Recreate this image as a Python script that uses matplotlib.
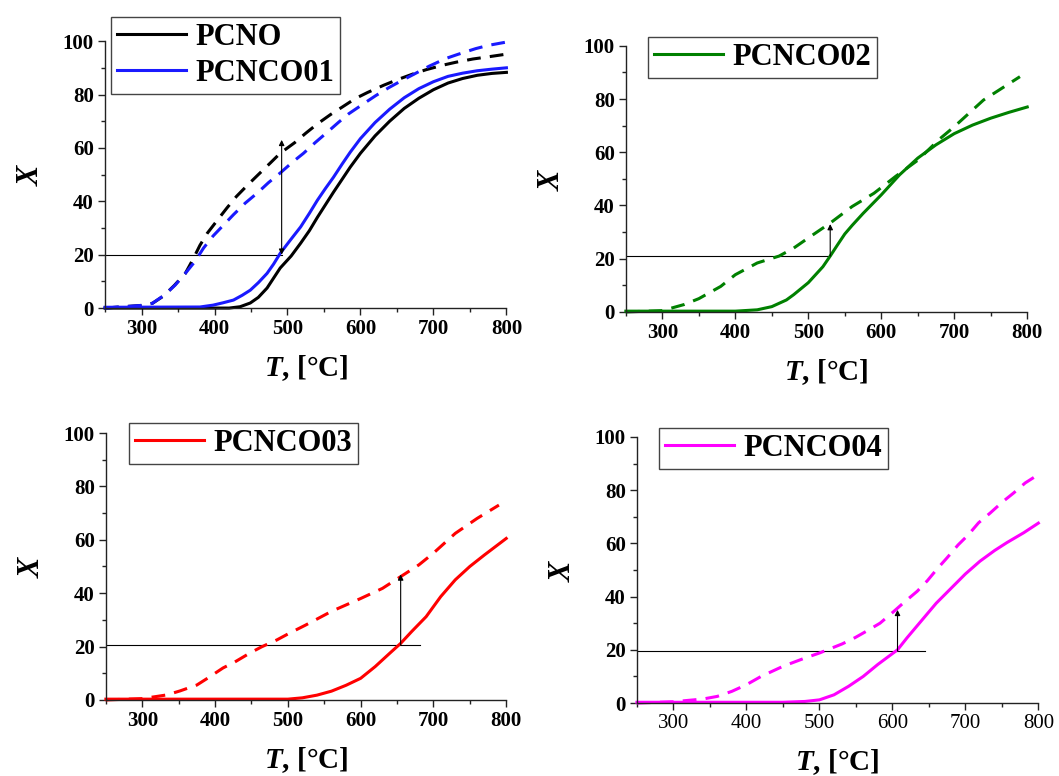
import matplotlib.pyplot as plt
from matplotlib.ticker import MultipleLocator

plt.rcParams['font.family'] = 'Liberation Serif'
plt.rcParams['font.weight'] = 'bold'
plt.rcParams['mathtext.fontset'] = 'custom'
plt.rcParams['mathtext.bfit'] = 'Liberation Serif:bold:italic'
plt.rcParams['mathtext.it'] = 'Liberation Serif:italic'
plt.rcParams['mathtext.rm'] = 'Liberation Serif'

# --- conversion curves (solid) and second-cycle curves (dashed) ---
T_pcno = [250, 420, 435, 449, 460, 472, 490, 505, 518, 530, 541, 552, 563, 575,
          586, 600, 620, 640, 660, 680, 700, 720, 740, 760, 780, 800]
X_pcno = [0, 0, 0.5, 1.9, 4, 7.5, 15, 19.5, 24.3, 29, 34, 38.7, 43.4, 48.3,
          52.8, 58, 64.5, 70, 74.8, 78.6, 81.8, 84.3, 86, 87.2, 87.9, 88.3]
T_pcno_d = [250, 300, 315, 330, 345, 360, 370, 380, 390, 405, 417, 430, 445, 460,
            477, 490, 510, 525, 541, 559, 575, 593, 610, 632, 651, 672, 690, 713,
            731, 754, 772, 797]
X_pcno_d = [0, 1, 1.8, 4.5, 8.5, 13, 18, 23.5, 28, 33.3, 37.5, 41.8, 46, 50,
            54.5, 58, 62, 65.5, 69, 72.5, 75.3, 78.5, 80.8, 83.5, 85.6, 87.7, 89.3, 91,
            92.1, 93.3, 94, 95]

T_co01 = [250, 380, 398, 412, 426, 438, 449, 460, 472, 481, 490, 504, 518, 530,
          541, 552, 563, 575, 586, 600, 620, 640, 660, 680, 700, 720, 740, 760,
          780, 800]
X_co01 = [0.3, 0.4, 1.1, 2, 3, 4.8, 6.7, 9.5, 13, 16.5, 20.5, 25.5, 30.4, 35.5,
          40.4, 44.8, 49, 54, 58.4, 63.5, 69.5, 74.5, 78.8, 82.2, 84.8, 86.8, 88, 88.9,
          89.5, 90]
T_co01_d = [250, 300, 315, 332, 346, 360, 373, 385, 398, 412, 426, 442, 459, 474,
            490, 507, 522, 538, 555, 570, 584, 604, 621, 639, 655, 676, 694, 717,
            733, 758, 775, 799]
X_co01_d = [0, 1, 1.8, 5, 8.6, 13, 17.4, 22.5, 27, 31, 35, 39.3, 43.2, 47,
            50.6, 54.7, 58, 62, 66, 69.6, 72.8, 76.5, 79.6, 82.6, 85, 88, 90.6, 93.5,
            95, 97.2, 98.4, 99.6]

T_co02 = [250, 400, 430, 450, 470, 480, 500, 520, 530, 540, 550, 560, 575, 600,
          625, 650, 675, 700, 725, 750, 775, 800]
X_co02 = [0.3, 0.3, 0.8, 2, 4.5, 6.5, 11, 17, 21, 25.2, 29.3, 32.5, 37, 44,
          51.5, 57.8, 62.8, 67, 70.2, 72.8, 75, 77]
T_co02_d = [250, 300, 330, 350, 380, 400, 430, 460, 480, 500, 530, 560, 590,
            620, 650, 680, 700, 740, 790]
X_co02_d = [0, 0.5, 2.8, 5, 9.6, 14, 18.4, 21, 24, 27.8, 33.4, 39.6, 44.6,
            51, 57, 65, 69.6, 79.6, 88.4]

T_co03 = [250, 500, 520, 540, 560, 580, 600, 620, 640, 655, 670, 690, 710, 730,
          750, 770, 800]
X_co03 = [0.3, 0.3, 0.8, 1.8, 3.3, 5.5, 8.1, 12.5, 17.5, 21.2, 25.6, 31.2, 38.7, 45,
          50, 54.3, 60.5]
T_co03_d = [250, 300, 334, 352, 375, 390, 411, 427, 448, 464, 485, 500, 524, 540,
            560, 600, 630, 655, 680, 700, 730, 760, 790]
X_co03_d = [0, 0.5, 1.9, 3.4, 5.6, 8.2, 12, 14.2, 17.6, 19.9, 22.5, 24.7, 28, 30.3,
            33.2, 38, 41.8, 46.2, 50.6, 55, 62.4, 68, 73]

T_co04 = [250, 450, 480, 500, 520, 540, 560, 580, 607, 620, 640, 660, 680, 700,
          720, 740, 757, 780, 800]
X_co04 = [0.3, 0.3, 0.6, 1.2, 3.1, 6.3, 10, 14.5, 20, 24.5, 31, 37.5, 43, 48.5,
          53.3, 57.3, 60.3, 64, 67.6]
T_co04_d = [250, 300, 340, 360, 380, 400, 420, 450, 480, 500, 520, 531, 549, 567,
            583, 601, 615, 634, 648, 661, 675, 690, 704, 718, 734, 751, 766, 782, 798]
X_co04_d = [0, 0.5, 1.5, 2.5, 4.4, 6.9, 10, 13.8, 16.9, 18.8, 21, 22.2, 24.6, 27.4,
            30, 34.2, 37.6, 42, 46, 50.3, 54.6, 59.4, 63.2, 67.7, 71.4, 75.6, 78.9,
            82.7, 85.5]

# T at X = 20 on the solid curve, X reached by the dashed curve there, end of guide line
guide_co01 = (492, 20, 63, 492)
guide_co02 = (530, 21, 33, 530)
guide_co03 = (655, 20.5, 47, 681)
guide_co04 = (607, 19.5, 35, 645)

fig = plt.figure(figsize=(10.59, 7.76), dpi=100)

# axes rectangles [left, bottom, width, height] in figure fractions
rects = [[0.0992, 0.603, 0.379, 0.344],
         [0.591, 0.598, 0.379, 0.343],
         [0.100, 0.098, 0.378, 0.344],
         [0.6015, 0.094, 0.379, 0.343]]
legend_anchor = [(0.1048, 0.978), (0.6119, 0.9523), (0.1218, 0.4549), (0.6223, 0.4485)]

DASH = (4.5, 3)
LW = 2.2


def style_axes(ax, xtick_bold=True):
    ax.set_xlim(250, 800)
    ax.set_ylim(0, 100)
    for s in ['top', 'right']:
        ax.spines[s].set_visible(False)
    for s in ['left', 'bottom']:
        ax.spines[s].set_linewidth(1.0)
        ax.spines[s].set_color('#222222')
    ax.xaxis.set_major_locator(MultipleLocator(100))
    ax.xaxis.set_minor_locator(MultipleLocator(50))
    ax.yaxis.set_major_locator(MultipleLocator(20))
    ax.yaxis.set_minor_locator(MultipleLocator(10))
    ax.tick_params(which='major', direction='out', length=5, width=1, labelsize=15,
                   color='#222222', pad=3)
    ax.tick_params(which='minor', direction='out', length=3, width=1, color='#222222')
    for lab in ax.get_yticklabels():
        lab.set_fontweight('bold')
    for lab in ax.get_xticklabels():
        lab.set_fontweight('bold' if xtick_bold else 'normal')
    ax.set_xlabel(r'$\mathbfit{T}$, [°C]', fontsize=21, fontweight='bold', labelpad=10)
    ax.set_ylabel(r'$\mathbfit{X}$', fontsize=22, labelpad=13)


def guide(ax, g, both=False):
    t, x0, x1, t_end = g
    ax.plot([250, t_end], [x0, x0], color='k', lw=0.8, zorder=1)
    ax.annotate('', xy=(t, x1), xytext=(t, x0),
                arrowprops=dict(arrowstyle='<|-|>' if both else '-|>', color='k',
                                lw=0.8, mutation_scale=8, shrinkA=0, shrinkB=0))


def add_legend(ax, anchor, items):
    leg = ax.legend(handles=items, loc='upper left', bbox_to_anchor=anchor,
                    bbox_transform=fig.transFigure, borderaxespad=0, fancybox=False,
                    framealpha=1, edgecolor='#444444', handlelength=2.25,
                    handletextpad=0.3, borderpad=0.2, labelspacing=0.22,
                    prop={'family': 'Liberation Serif', 'weight': 'bold', 'size': 22})
    leg.get_frame().set_linewidth(1.0)


# Panel 1: PCNO and PCNCO01
ax1 = fig.add_axes(rects[0])
l1, = ax1.plot(T_pcno, X_pcno, color='black', lw=LW, label='PCNO', clip_on=False)
ax1.plot(T_pcno_d, X_pcno_d, color='black', lw=LW, dashes=DASH, clip_on=False)
l2, = ax1.plot(T_co01, X_co01, color='#1a1aff', lw=LW, label='PCNCO01', clip_on=False)
ax1.plot(T_co01_d, X_co01_d, color='#1a1aff', lw=LW, dashes=DASH, clip_on=False)
guide(ax1, guide_co01, both=True)
style_axes(ax1)
add_legend(ax1, legend_anchor[0], [l1, l2])

# Panel 2: PCNCO02
ax2 = fig.add_axes(rects[1])
l3, = ax2.plot(T_co02, X_co02, color='#008000', lw=LW, label='PCNCO02', clip_on=False)
ax2.plot(T_co02_d, X_co02_d, color='#008000', lw=LW, dashes=DASH, clip_on=False)
guide(ax2, guide_co02)
style_axes(ax2)
add_legend(ax2, legend_anchor[1], [l3])

# Panel 3: PCNCO03
ax3 = fig.add_axes(rects[2])
l4, = ax3.plot(T_co03, X_co03, color='#ff0000', lw=LW, label='PCNCO03', clip_on=False)
ax3.plot(T_co03_d, X_co03_d, color='#ff0000', lw=LW, dashes=DASH, clip_on=False)
guide(ax3, guide_co03)
style_axes(ax3)
add_legend(ax3, legend_anchor[2], [l4])

# Panel 4: PCNCO04
ax4 = fig.add_axes(rects[3])
l5, = ax4.plot(T_co04, X_co04, color='#ff00ff', lw=LW, label='PCNCO04', clip_on=False)
ax4.plot(T_co04_d, X_co04_d, color='#ff00ff', lw=LW, dashes=DASH, clip_on=False)
guide(ax4, guide_co04)
style_axes(ax4, xtick_bold=False)
add_legend(ax4, legend_anchor[3], [l5])

fig.savefig('out.png', dpi=100)
